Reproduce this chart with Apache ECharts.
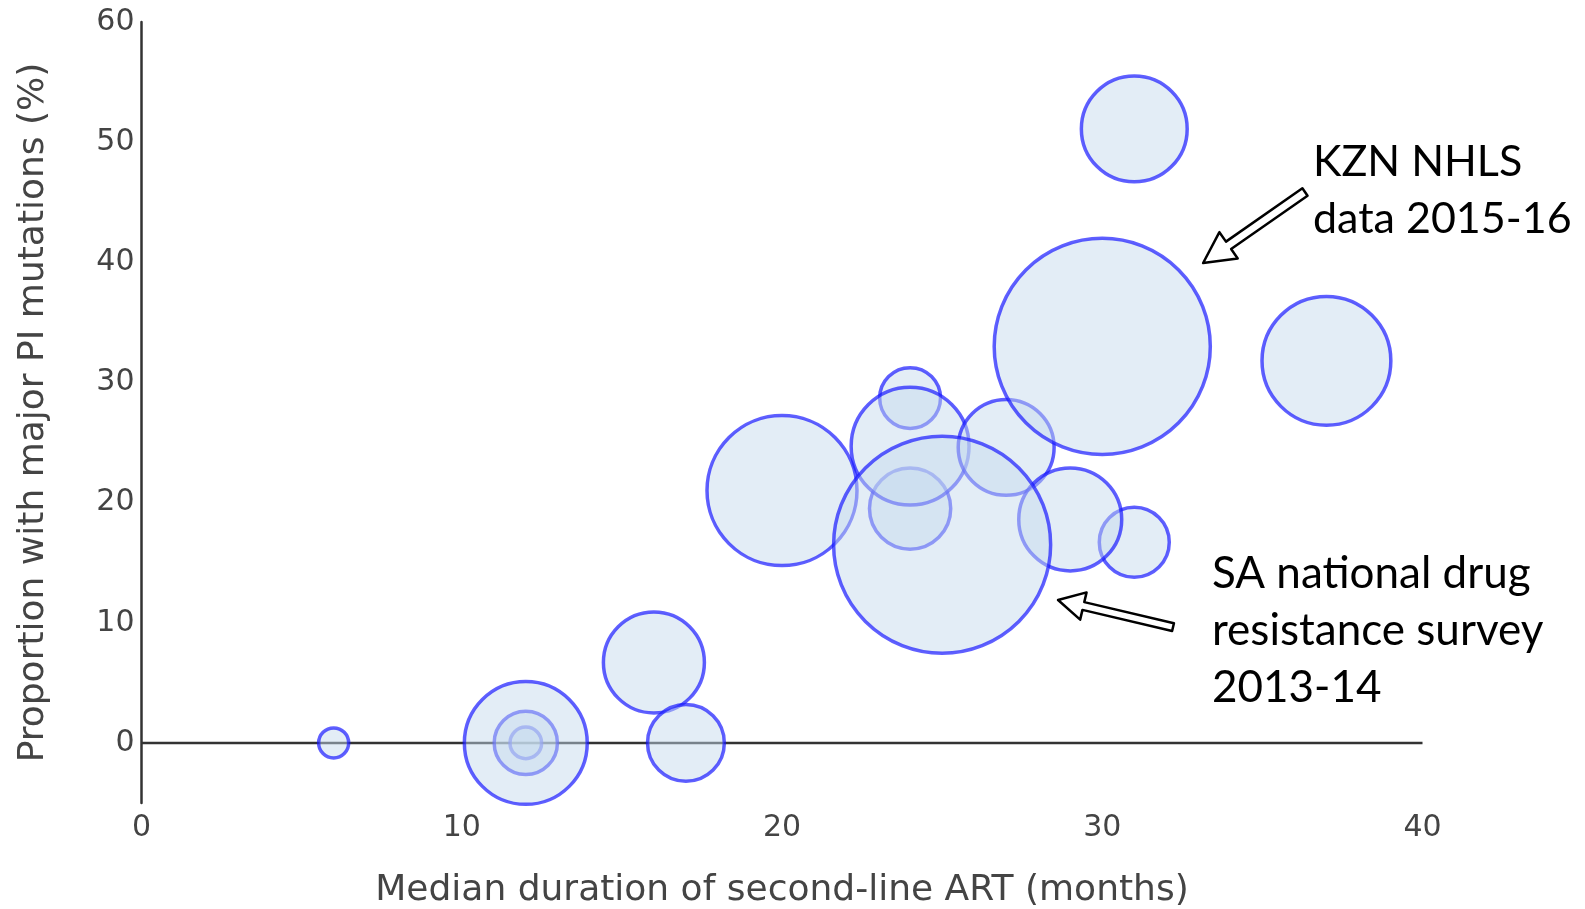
<!DOCTYPE html>
<html>
<head>
<meta charset="utf-8">
<script src="https://cdn.jsdelivr.net/npm/echarts@6/dist/echarts.min.js"></script>
<style>
  html, body { margin: 0; padding: 0; background: #fff; }
  #chart { width: 1585px; height: 909px; }
</style>
</head>
<body>
<div id="chart"></div>
<script>
// Median months on second-line ART, % with major PI mutations, and cohort size per study
const months = [6, 12, 12, 12, 16, 17, 24, 24, 24, 20, 27, 31, 29, 25, 30, 37, 31];
const piPct  = [0, 0, 0, 0, 6.7, 0, 28.7, 19.5, 24.7, 21, 24.6, 16.7, 18.6, 16.5, 33, 31.8, 51.1];
const cohortN = [9, 10, 40, 151, 102, 59, 37, 66, 139, 225, 92, 49, 106, 471, 467, 166, 112];

const xTicks = [0, 10, 20, 30, 40];
const yTicks = [0, 10, 20, 30, 40, 50, 60];

const xTitle = 'Median duration of second-line ART (months)';
const yTitle = 'Proportion with major PI mutations (%)';

// Callout notes: text lines plus arrow tail/tip in data units
const notes = [
  { lines: ['KZN NHLS', 'data 2015-16'], left: 1313, firstLine: 162, size: 43,
    tail: [36.33, 45.85], tip: [33.15, 39.94], head: 31, headHalf: 16, shaft: 4.5 },
  { lines: ['SA national drug', 'resistance survey', '2013-14'], left: 1212, firstLine: 574, size: 44,
    tail: [32.21, 9.64], tip: [28.62, 11.89], head: 26, headHalf: 14, shaft: 4 }
];

const points = months.map((m, i) => [m, piPct[i], cohortN[i]]);

const chart = echarts.init(document.getElementById('chart'));
const axisFont = { fontFamily: 'DejaVu Sans', color: '#444' };

chart.setOption({
  animation: false,
  grid: { left: 141.5, right: 162.5, top: 22, bottom: 106, outerBoundsMode: 'none' },
  xAxis: {
    type: 'value', min: 0, max: 40, interval: 10,
    name: xTitle, nameLocation: 'middle', nameGap: 70,
    nameTextStyle: Object.assign({ fontSize: 36 }, axisFont),
    axisLine: { show: false }, axisTick: { show: false }, splitLine: { show: false },
    axisLabel: Object.assign({ fontSize: 30, margin: 10,
      customValues: xTicks }, axisFont)
  },
  yAxis: {
    type: 'value', min: -5, max: 60,
    name: yTitle, nameLocation: 'middle', nameGap: 90,
    nameTextStyle: Object.assign({ fontSize: 36 }, axisFont),
    axisLine: { show: true, onZero: false, lineStyle: { color: '#333', width: 2.5 } },
    axisTick: { show: false }, splitLine: { show: false },
    axisLabel: Object.assign({ fontSize: 30, margin: 7,
      customValues: yTicks }, axisFont)
  },
  series: [
    {
      // zero reference line across the x range
      type: 'line', z: 1, silent: true, symbol: 'none',
      data: [[xTicks[0], 0], [xTicks[xTicks.length - 1], 0]],
      lineStyle: { color: '#333', width: 2.5 }
    },
    {
      type: 'scatter', z: 2,
      data: points,
      symbolSize: d => 10 * Math.sqrt(d[2]),
      itemStyle: {
        color: 'rgba(197,217,237,0.6)',
        borderColor: 'rgba(20,20,255,0.85)',
        borderWidth: 3.5
      }
    }
  ]
});

function arrowPoints(tail, tip, head, headHalf, shaft) {
  const dx = tip[0] - tail[0], dy = tip[1] - tail[1];
  const len = Math.hypot(dx, dy);
  const ux = dx / len, uy = dy / len;
  const nx = -uy, ny = ux;
  const bx = tip[0] - ux * head, by = tip[1] - uy * head;
  return [
    [tail[0] + nx * shaft, tail[1] + ny * shaft],
    [bx + nx * shaft, by + ny * shaft],
    [bx + nx * headHalf, by + ny * headHalf],
    tip,
    [bx - nx * headHalf, by - ny * headHalf],
    [bx - nx * shaft, by - ny * shaft],
    [tail[0] - nx * shaft, tail[1] - ny * shaft]
  ];
}

const graphics = [];
notes.forEach(n => {
  const tail = chart.convertToPixel({ gridIndex: 0 }, n.tail);
  const tip = chart.convertToPixel({ gridIndex: 0 }, n.tip);
  graphics.push({
    type: 'polygon', z: 10,
    shape: { points: arrowPoints(tail, tip, n.head, n.headHalf, n.shaft) },
    style: { fill: '#fff', stroke: '#000', lineWidth: 2.5, lineJoin: 'round' }
  });
  n.lines.forEach((line, k) => {
    graphics.push({
      type: 'text', z: 10, x: n.left, y: n.firstLine + k * 57,
      style: { text: line, fontFamily: 'Lato', fontSize: n.size, fill: '#000',
        verticalAlign: 'middle' }
    });
  });
});
chart.setOption({ graphic: graphics });
</script>
</body>
</html>
